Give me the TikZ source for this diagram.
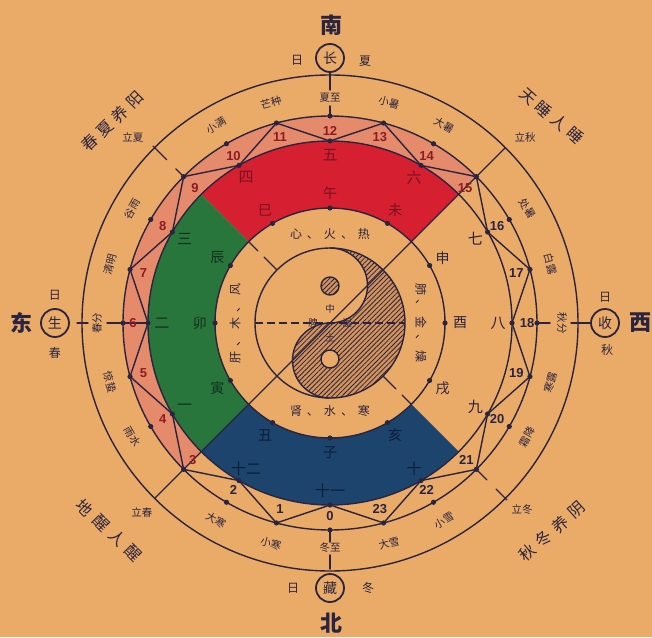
\documentclass[tikz,border=0pt]{standalone}
\usepackage{fontspec}
\setmainfont{Liberation Sans}
\newfontfamily\cjk{Noto Sans CJK SC}
\usetikzlibrary{patterns.meta}
\definecolor{bg}{RGB}{234,171,104}
\definecolor{ink}{RGB}{42,36,64}
\definecolor{bandred}{RGB}{214,32,50}
\definecolor{bandgreen}{RGB}{40,118,60}
\definecolor{bandblue}{RGB}{28,68,108}
\definecolor{salmon}{RGB}{230,138,108}
\definecolor{tred}{RGB}{120,18,30}
\definecolor{tgreen}{RGB}{18,48,30}
\definecolor{tblue}{RGB}{12,30,58}
\definecolor{nred}{RGB}{140,28,36}
\definecolor{hatchbg}{RGB}{210,146,92}
\newcommand{\orgsp}{\hspace{5pt}}
\tikzset{
 ln/.style={draw=ink, line width=1.4pt, line cap=round, line join=round},
 term/.style={font=\cjk\fontsize{10.5}{10.5}\selectfont, text=ink, inner sep=0pt},
 numlbl/.style={font=\rmfamily\bfseries\fontsize{13}{13}\selectfont, inner sep=0pt},
 bandnum/.style={font=\cjk\fontsize{15}{15}\selectfont, inner sep=0pt},
 branch/.style={font=\cjk\fontsize{14}{14}\selectfont, inner sep=0pt},
 organ/.style={font=\cjk\fontsize{12}{12}\selectfont, text=ink, inner sep=0pt},
 centre/.style={font=\cjk\fontsize{9.5}{9.5}\selectfont, text=ink, inner sep=0pt},
 small/.style={font=\cjk\fontsize{12}{12}\selectfont, text=ink, inner sep=0pt},
 big/.style={font=\cjk\bfseries\fontsize{22}{22}\selectfont, text=ink, inner sep=0pt},
 saying/.style={font=\cjk\fontsize{16}{16}\selectfont, text=ink, inner sep=0pt},
 seal/.style={circle, draw=ink, line width=1.8pt, minimum size=28pt, inner sep=0pt, font=\cjk\fontsize{14}{14}\selectfont, text=ink},
}
\begin{document}
\begin{tikzpicture}[x=1pt,y=1pt]
\fill[bg] (-330,-314) rectangle (322,323);
\useasboundingbox (-330,-314) rectangle (322,323);

% salmon ring
\fill[salmon] (45:207) arc[start angle=45,end angle=225,radius=207] -- (225:182) arc[start angle=225,end angle=45,radius=182] -- cycle;
% coloured bands
\fill[bandred] (45:182) arc[start angle=45,end angle=135,radius=182] -- (135:115) arc[start angle=135,end angle=45,radius=115] -- cycle;
\fill[bandgreen] (135:182) arc[start angle=135,end angle=225,radius=182] -- (225:115) arc[start angle=225,end angle=135,radius=115] -- cycle;
\fill[bandblue] (225:182) arc[start angle=225,end angle=315,radius=182] -- (315:115) arc[start angle=315,end angle=225,radius=115] -- cycle;

% yin-yang
\fill[hatchbg] (0,75) arc[start angle=90,end angle=-90,radius=75] arc[start angle=270,end angle=90,radius=37.5] arc[start angle=-90,end angle=90,radius=37.5] -- cycle;
\fill[pattern={Lines[angle=45,distance=3.4pt,line width=0.8pt]}, pattern color=ink] (0,75) arc[start angle=90,end angle=-90,radius=75] arc[start angle=270,end angle=90,radius=37.5] arc[start angle=-90,end angle=90,radius=37.5] -- cycle;
\draw[ln] (0,75) arc[start angle=90,end angle=-90,radius=37.5] arc[start angle=90,end angle=270,radius=37.5];
\fill[hatchbg] (0,37) circle (9);
\fill[pattern={Lines[angle=45,distance=3.4pt,line width=0.8pt]}, pattern color=ink] (0,37) circle (9);
\draw[ln] (0,37) circle (9);
\fill[bg] (0,-36) circle (9);
\draw[ln] (0,-36) circle (9);

% circles
\draw[ln] (0,0) circle (248);
\draw[ln] (0,0) circle (207);
\draw[ln] (0,0) circle (182);
\draw[ln] (0,0) circle (115);
\draw[ln] (0,0) circle (75);

% named points
\foreach \n in {0,...,23} {
  \coordinate (P\n) at ({270-15*\n}:207);
  \coordinate (Q\n) at ({270-15*\n}:182);
}
\foreach \b in {0,...,11} { \coordinate (B\b) at ({270-30*\b}:115); }

% diagonals
\draw[ln] (225:248) -- (45:248);
\draw[ln] (135:250) -- (135:231);
\draw[ln] (135:218) -- (P9);
\draw[ln] (135:115) -- (135:102);
\draw[ln] (135:93) -- (135:76);
\draw[ln] (315:250) -- (315:235);
\draw[ln] (315:222) -- (P21);
\draw[ln] (315:115) -- (315:102);
\draw[ln] (315:93) -- (315:76);
\draw[ln, line cap=butt, dash pattern=on 8pt off 4pt] (180:75) -- (0:75);

% zigzag
\foreach \n in {1,3,...,23} {
  \pgfmathtruncatemacro{\na}{\n-1}
  \pgfmathtruncatemacro{\nb}{mod(\n+1,24)}
  \draw[ln] (Q\na) -- (P\n) -- (Q\nb);
}

% cardinal seals and lines
\node[seal] (cS) at (90:265) {长};
\node[seal] (cN) at (270:265) {藏};
\node[seal] (cE) at (180:275) {生};
\node[seal] (cW) at (0:275) {收};
\draw[ln] (P12) -- (90:217);
\draw[ln] (90:233) -- (cS.south);
\draw[ln] (P0) -- (270:219);
\draw[ln] (270:232) -- (270:246);
\draw[ln] (Q6) -- (180:223);
\draw[ln] (180:242) -- (180:253);
\draw[ln] (P18) -- (0:220);
\draw[ln] (0:241) -- (cW.west);

% dots
\foreach \n in {0,...,23} { \fill[ink] (P\n) circle (2.6); }
\foreach \n in {0,2,...,22} { \fill[ink] (Q\n) circle (2.6); }
\foreach \b in {0,...,11} { \fill[ink] (B\b) circle (2.6); }

% solar terms
\node[term] (T0) at (270:225) {冬至};
\node[term] (T12) at (90:225) {夏至};
\node[term, rotate=90] (T6) at (180:233) {春分};
\node[term, rotate=-90] (T18) at (0:232) {秋分};
\foreach \n/\t/\r in {1/小寒/345, 2/大寒/330, 4/雨水/300, 5/惊蛰/285, 7/清明/75, 8/谷雨/60, 10/小满/30, 11/芒种/15, 13/小暑/-15, 14/大暑/-30, 16/处暑/-60, 17/白露/-75, 19/寒露/75, 20/霜降/60, 22/小雪/30, 23/大雪/15} {
  \node[term, rotate=\r, name=T\n] at ({270-15*\n}:228) {\t};
}
\node[term] (T9) at (-197,186) {立夏};
\node[term] (T3) at (-188,-189) {立春};
\node[term] (T15) at (195,186) {立秋};
\node[term] (T21) at (192,-187) {立冬};

% number labels
\foreach \n/\r/\c in {0/193/ink,1/193/ink,2/193/ink,3/194/nred,4/193/nred,5/193/nred,6/197/nred,7/193/nred,8/193/nred,9/191/nred,10/193/nred,11/193/nred,12/192/nred,13/193/nred,14/193/nred,15/191/nred,16/193/ink,17/193/ink,18/197/ink,19/193/ink,20/193/ink,21/193/ink,22/193/ink,23/193/ink} {
  \node[numlbl, text=\c, name=L\n] at ({270-15*\n}:\r) {\n};
}

% band numerals
\foreach \k/\t/\c in {1/一/tgreen,2/二/tgreen,3/三/tgreen,4/四/tred,5/五/tred,6/六/tred,7/七/ink,8/八/ink,9/九/ink,10/十/tblue,11/十一/tblue,12/十二/tblue} {
  \node[bandnum, text=\c, name=N\k] at ({240-30*\k}:168) {\t};
}
% earthly branches
\foreach \b/\t/\c in {0/子/tblue,1/丑/tblue,2/寅/tgreen,3/卯/tgreen,4/辰/tgreen,5/巳/tred,6/午/tred,7/未/tred,8/申/ink,9/酉/ink,10/戌/ink,11/亥/tblue} {
  \node[branch, text=\c, name=E\b] at ({270-30*\b}:130) {\t};
}

% organ ring
\node[organ] (oS) at (0,89) {心\orgsp{}、\orgsp{}火\orgsp{}、\orgsp{}热};
\node[organ] (oN) at (0,-88) {肾\orgsp{}、\orgsp{}水\orgsp{}、\orgsp{}寒};
\node[organ, rotate=90] (oE) at (-95,0) {肝\orgsp{}、\orgsp{}木\orgsp{}、\orgsp{}风};
\node[organ, rotate=-90] (oW) at (91,0) {肺\orgsp{}、\orgsp{}金\orgsp{}、\orgsp{}燥};
\node[centre] (m1) at (0,14) {中};
\node[centre] (m2) at (-17,0) {脾};
\node[centre] (m3) at (17,0) {湿};
\node[centre] (m4) at (0,-15) {土};

% cardinal texts
\node[small] (d1) at (-33,263) {日};
\node[small] (d2) at (35,262) {夏};
\node[big] (d3) at (1,298) {南};
\node[small] (d4) at (-37,-265) {日};
\node[small] (d5) at (38,-265) {冬};
\node[big] (d6) at (1,-300) {北};
\node[small] (d7) at (-275,28) {日};
\node[small] (d8) at (-275,-30) {春};
\node[big] (d9) at (-308,0) {东};
\node[small] (d10) at (275,26) {日};
\node[small] (d11) at (277,-27) {秋};
\node[big] (d12) at (310,0) {西};

% sayings, one character at a time along the diagonals
\foreach \i/\t in {0/春,1/夏,2/养,3/阳} {
  \node[saying, rotate=45, name=sa\i] at ({-240+15*\i},{180+14.3*\i}) {\t};
}
\foreach \i/\t in {0/天,1/睡,2/人,3/睡} {
  \node[saying, rotate=-42, name=sb\i] at ({198+15.7*\i},{226-12.7*\i}) {\t};
}
\foreach \i/\t in {0/地,1/醒,2/人,3/醒} {
  \node[saying, rotate=-45, name=sc\i] at ({-245+16*\i},{-185-15*\i}) {\t};
}
\foreach \i/\t in {0/秋,1/冬,2/养,3/阴} {
  \node[saying, rotate=42, name=sd\i] at ({197+16.7*\i},{-230+14.3*\i}) {\t};
}
\end{tikzpicture}
\end{document}
